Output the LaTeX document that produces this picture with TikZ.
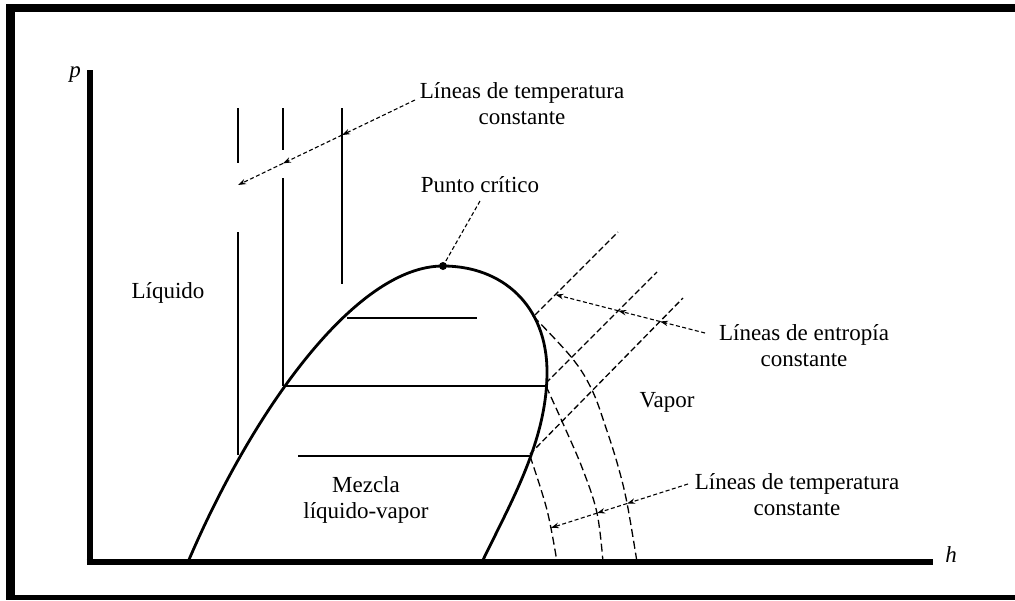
\documentclass[tikz,border=0pt]{standalone}
\usepackage{fontspec}
\setmainfont{Liberation Serif}
\usetikzlibrary{arrows.meta,intersections}
\begin{document}
\begin{tikzpicture}[x=1pt,y=-1pt,
  lbl/.style={font=\fontsize{23}{26}\selectfont, align=center, inner sep=0pt},
  axis/.style={line width=6pt},
  dome/.style={line width=2.8pt, line join=round},
  solid line/.style={line width=1.5pt},
  ent/.style={line width=1.3pt, dash pattern=on 6pt off 3pt},
  iso/.style={line width=1.3pt, dash pattern=on 8pt off 4pt},
  lead/.style={line width=1.1pt, dash pattern=on 4pt off 2.5pt},
  tip/.style={-{Stealth[length=8pt,width=5.5pt]}}
]
\useasboundingbox (0,0) rectangle (1015,600);
% frame
\fill (6,4) rectangle (1015,12);
\fill (6,4) rectangle (15,600);
\fill (6,595) rectangle (1015,600);

% axes
\coordinate (ytop) at (89.5,70);
\coordinate (orig) at (89.5,565);
\coordinate (xleft) at (86.5,562);
\coordinate (xend) at (933,562);
\draw[axis] (ytop) -- (orig);
\draw[axis] (xleft) -- (xend);
\node[lbl, font=\fontsize{23}{26}\itshape] (plbl) at (75,75) {p};
\node[lbl, font=\fontsize{23}{26}\itshape] (hlbl) at (951,555) {h};

% constant-temperature lines in the liquid region
\draw[solid line] (238,108) -- (238,163);
\draw[solid line] (238,232) -- (238,455);
\draw[solid line] (283,108) -- (283,150);
\draw[solid line] (283,178) -- (283,386);
\draw[solid line] (342,108) -- (342,284);

% horizontal lines in the dome
\draw[solid line] (347,318) -- (477,318);
\draw[solid line] (284,386) -- (546,386);
\draw[solid line] (298,456) -- (530,456);

% saturation dome
\coordinate (lfoot) at (188,562);
\coordinate (crit) at (443,266);
\coordinate (bulge) at (547,372);
\coordinate (rfoot) at (482,562);
\draw[dome] (lfoot) .. controls (252,412) and (355,266) .. (crit)
  .. controls (502,266) and (547,305) .. (bulge)
  .. controls (547,440) and (512,500) .. (rfoot);
\node[circle, fill, inner sep=0pt, minimum size=8pt] (cp) at (crit) {};

% constant entropy lines
\coordinate (e1a) at (535,315);
\coordinate (e1b) at (618,232);
\coordinate (e2a) at (546,383);
\coordinate (e2b) at (657,272);
\coordinate (e3a) at (530,454);
\coordinate (e3b) at (683,298);
\draw[ent] (e1a) -- (e1b);
\draw[ent] (e2a) -- (e2b);
\draw[ent] (e3a) -- (e3b);

% constant temperature lines in the vapor region
\draw[iso, name path=c1] plot[smooth, tension=0.6] coordinates {(533,316) (572,358) (592,390) (606,428) (618,466) (627,503) (637,562)};
\draw[iso, name path=c2] plot[smooth, tension=0.6] coordinates {(546,386) (565,428) (583,470) (597,513) (603,562)};
\draw[iso, name path=c3] plot[smooth, tension=0.6] coordinates {(530,456) (547,510) (557,562)};

% labels
\node[lbl] (toplbl) at (522,104) {Líneas de temperatura\\constante};
\node[lbl] (pc) at (480,185) {Punto crítico};
\node[lbl] (liq) at (168,293) {Líquido};
\node[lbl] (mez) at (366,500) {Mezcla\\líquido-vapor};
\node[lbl] (vap) at (667,402) {Vapor};
\node[lbl] (entlbl) at (804,346) {Líneas de entropía\\constante};
\node[lbl] (botlbl) at (797,495) {Líneas de temperatura\\constante};

% leader: critical point
\coordinate (pcs) at (480,201);
\draw[lead] (pcs) -- (cp);

% leader: top temperature lines
\coordinate (tA) at (415,100);
\coordinate (tE) at (238,185);
\coordinate (t3) at (intersection of tA--tE and 342,0--342,600);
\coordinate (t2) at (intersection of tA--tE and 283,0--283,600);
\draw[lead, tip] (tA) -- (t3);
\draw[lead, tip] (t3) -- (t2);
\draw[lead, tip] (t2) -- (tE);

% leader: entropy lines
\coordinate (eS) at (705,333);
\coordinate (eE) at (557,295);
\coordinate (x3) at (intersection of eS--eE and e3a--e3b);
\coordinate (x2) at (intersection of eS--eE and e2a--e2b);
\coordinate (x1) at (intersection of eS--eE and e1a--e1b);
\draw[lead, tip] (eS) -- (x3);
\draw[lead, tip] (x3) -- (x2);
\draw[lead, tip] (x2) -- (x1);

% leader: vapor temperature lines
\coordinate (bS) at (688,484);
\path[name path=bl] (bS) -- (538,532);
\path[name intersections={of=bl and c1, by=b1}];
\path[name intersections={of=bl and c2, by=b2}];
\path[name intersections={of=bl and c3, by=b3}];
\draw[lead, tip] (bS) -- (b1);
\draw[lead, tip] (b1) -- (b2);
\draw[lead, tip] (b2) -- (b3);
\end{tikzpicture}
\end{document}
